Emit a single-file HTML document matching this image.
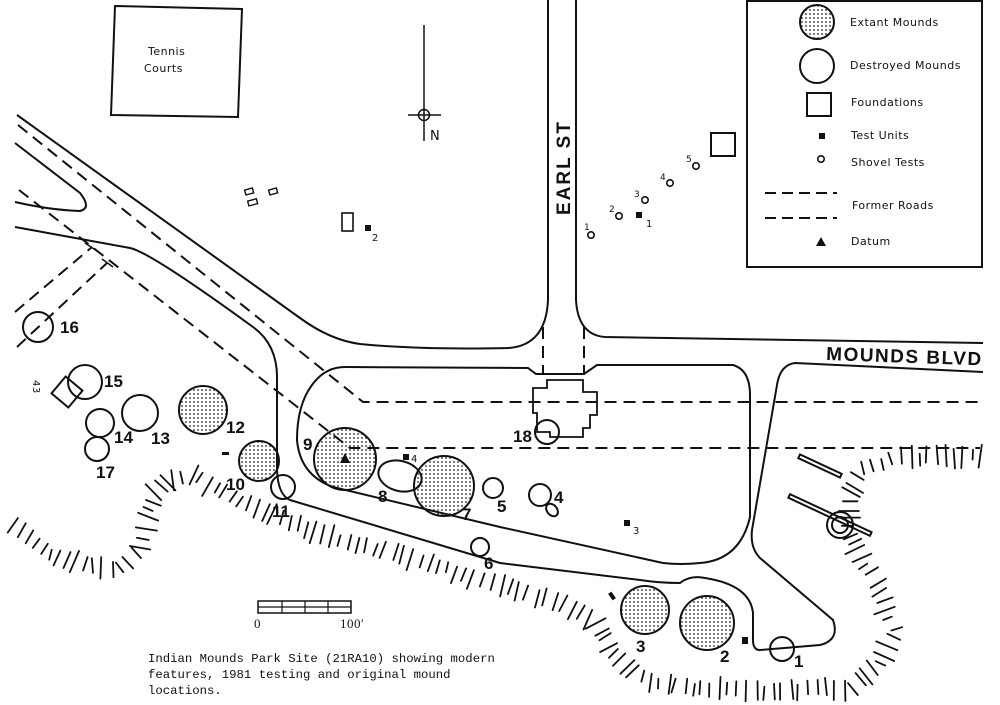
<!DOCTYPE html>
<html><head><meta charset="utf-8"><style>
html,body{margin:0;padding:0;background:#fff;}
svg{display:block;}
.b{font-family:"Liberation Sans",sans-serif;font-weight:bold;font-size:17px;fill:#111;}
.s{font-family:"DejaVu Sans","Liberation Sans",sans-serif;font-size:11px;fill:#111;letter-spacing:0.5px;}
.c{font-family:"Liberation Mono",monospace;font-size:12.3px;fill:#111;}
</style></head><body>
<svg id="m" width="1000" height="705" viewBox="0 0 1000 705" xmlns="http://www.w3.org/2000/svg">
<defs>
<pattern id="dots" width="4" height="4" patternUnits="userSpaceOnUse"><circle cx="2" cy="2" r="0.9" fill="#222"/></pattern>
</defs>
<rect width="1000" height="705" fill="#fff"/>
<g fill="none" stroke="#111" stroke-width="2">
<path d="M115 6 L242 9 L238 117 L111 115 Z"/>
<path d="M424 25 V141 M408 115 H441" stroke-width="1.5"/>
<circle cx="424" cy="115" r="5.5" stroke-width="1.5"/>
<path d="M17 115 L300 318 Q330 340 360 344 Q420 350 509 348 Q546 345 548 300 V0"/>
<path d="M15 143 L80 193 Q92 208 80 211 Q50 210 15 202"/>
<path d="M15 227 L130 248 Q150 252 253 327 Q278 345 277 380 V470 Q278 495 290 500 L500 563 L640 580 Q660 583 680 583 Q690 575 705 578 Q750 585 753 613 V640 Q753 650 760 650 L820 645 Q840 640 833 620 L760 558 Q750 548 752 530 L777 385 Q780 365 795 363 L983 372"/>
<path d="M576 0 V300 Q578 335 605 337 L983 343"/>
<path d="M500 527 L333 487 Q300 475 297 440 Q297 405 312 385 Q325 367 345 367 L528 368 L536 374 H584 L597 365 L733 365 Q750 370 750 395 V517 Q740 560 700 563 Q680 565 663 563 Z"/>
<path d="M547 380 V388 H533 V413 H537 V432 H550 V437 H583 V428 H590 V415 H597 V392 H583 V380 Z" stroke-width="1.8"/>
<rect x="747" y="1" width="235" height="266"/>
<rect x="807" y="93" width="24" height="23"/>
<circle cx="817" cy="66" r="17"/>
<rect x="711" y="133" width="24" height="23"/>
<rect x="342" y="213" width="11" height="18" stroke-width="1.6"/>
<g stroke-width="1.4"><rect x="245" y="189" width="8" height="5" transform="rotate(-15 249 191)"/><rect x="248" y="200" width="9" height="5" transform="rotate(-15 252 202)"/><rect x="269" y="189" width="8" height="5" transform="rotate(-15 273 191)"/></g>
<rect x="258" y="601" width="93" height="12" stroke-width="1.5"/>
<path d="M258 607 H351 M282 601 V613 M305 601 V613 M328 601 V613" stroke-width="1.2"/>
</g>
<g fill="none" stroke="#111" stroke-width="2" stroke-dasharray="12 7">
<path d="M18 125 L363 402 H980"/>
<path d="M19 190 L350 448 H980"/>
<path d="M15 312 L92 247"/>
<path d="M17 347 L107 263"/>
<path d="M543 327 V375 M584 327 V375"/>
<path d="M765 193 H837 M765 218 H837" stroke-dasharray="11 6"/>
</g>
<path d="M85 243 L97 251 M102 259 L113 267" stroke="#111" stroke-width="1.5"/>
<g stroke="#111" stroke-width="2">
<circle cx="817" cy="22" r="17" fill="url(#dots)"/>
<circle cx="203" cy="410" r="24" fill="url(#dots)"/>
<circle cx="259" cy="461" r="20" fill="url(#dots)"/>
<circle cx="345" cy="459" r="31" fill="url(#dots)"/>
<circle cx="444" cy="486" r="30" fill="url(#dots)"/>
<circle cx="645" cy="610" r="24" fill="url(#dots)"/>
<circle cx="707" cy="623" r="27" fill="url(#dots)"/>
<g fill="none">
<circle cx="38" cy="327" r="15"/>
<circle cx="85" cy="382" r="17"/>
<rect x="56" y="381" width="22" height="22" transform="rotate(40 67 392)"/>
<circle cx="100" cy="423" r="14"/>
<circle cx="140" cy="413" r="18"/>
<circle cx="97" cy="449" r="12"/>
<circle cx="283" cy="487" r="12"/>
<ellipse cx="400" cy="476" rx="22" ry="15" transform="rotate(15 400 476)"/>
<circle cx="493" cy="488" r="10"/>
<circle cx="480" cy="547" r="9"/>
<circle cx="540" cy="495" r="11"/>
<ellipse cx="552" cy="510" rx="5" ry="7" transform="rotate(-40 552 510)"/>
<circle cx="547" cy="432" r="12"/>
<circle cx="782" cy="649" r="12"/>
<circle cx="840" cy="525" r="13"/>
<circle cx="840" cy="525" r="8"/>
<rect x="797" y="464" width="46" height="4" transform="rotate(25 820 466)"/>
<rect x="785" y="513" width="90" height="4" transform="rotate(25 830 515)"/>
</g>
</g>
<g fill="#111">
<rect x="365" y="225" width="6" height="6"/>
<rect x="636" y="212" width="6" height="6"/>
<rect x="624" y="520" width="6" height="6"/>
<rect x="403" y="454" width="6" height="6"/>
<rect x="742" y="637" width="6" height="7"/>
<rect x="819" y="133" width="6" height="6"/>
<path d="M345 453 L340 463 H350 Z"/>
<path d="M821 237 L816 246 H826 Z"/>
<rect x="222" y="452" width="7" height="3"/>
<rect x="610" y="592" width="4" height="8" transform="rotate(-35 612 596)"/>
</g>
<g fill="none" stroke="#111" stroke-width="1.6">
<circle cx="591" cy="235" r="3.2"/><circle cx="619" cy="216" r="3.2"/><circle cx="645" cy="200" r="3.2"/><circle cx="670" cy="183" r="3.2"/><circle cx="696" cy="166" r="3.2"/><circle cx="821" cy="159" r="3.2"/>
</g>
<g id="hach" stroke="#111" stroke-width="1.8" stroke-linecap="round" fill="none"></g>
<g class="b">
<text x="60" y="333">16</text><text x="104" y="387">15</text><text x="114" y="443">14</text><text x="151" y="444">13</text><text x="226" y="433">12</text>
<text x="96" y="478">17</text><text x="226" y="490">10</text><text x="272" y="517">11</text><text x="303" y="450">9</text><text x="378" y="502">8</text>
<text x="462" y="520">7</text><text x="497" y="512">5</text><text x="484" y="569">6</text><text x="554" y="503">4</text><text x="513" y="442">18</text>
<text x="636" y="652">3</text><text x="720" y="662">2</text><text x="794" y="667">1</text>
<text x="826" y="360" transform="rotate(2 826 360)" font-size="19" letter-spacing="1.5">MOUNDS  BLVD</text>
<text x="0" y="0" transform="translate(570 215) rotate(-90)" font-size="19" letter-spacing="2">EARL  ST</text>
</g>
<g class="s">
<text x="148" y="55">Tennis</text><text x="144" y="72">Courts</text>
<text x="430" y="140" font-size="13">N</text>
<text x="850" y="26">Extant Mounds</text>
<text x="850" y="69">Destroyed Mounds</text>
<text x="851" y="106">Foundations</text>
<text x="851" y="139">Test Units</text>
<text x="851" y="166">Shovel Tests</text>
<text x="852" y="209">Former Roads</text>
<text x="851" y="245">Datum</text>
<text x="372" y="241" font-size="10">2</text>
<text x="646" y="227" font-size="10">1</text>
<text x="633" y="534" font-size="10">3</text>
<text x="411" y="462" font-size="10">4</text>
<text x="584" y="230" font-size="9">1</text><text x="609" y="212" font-size="9">2</text><text x="634" y="197" font-size="9">3</text><text x="660" y="180" font-size="9">4</text><text x="686" y="162" font-size="9">5</text>
<text x="0" y="0" transform="translate(33 380) rotate(90)" font-size="10">43</text>
<text x="254" y="628" font-family="Liberation Serif" font-size="13">0</text>
<text x="340" y="628" font-family="Liberation Serif" font-size="13">100′</text>
</g>
<g class="c">
<text x="148" y="662">Indian Mounds Park Site (21RA10) showing modern</text>
<text x="148" y="678">features, 1981 testing and original mound</text>
<text x="148" y="694">locations.</text>
</g>
</svg>
<script>
(function(){
var pts=[[10,526],[50,552],[90,568],[120,568],[140,550],[145,520],[155,495],[172,478],[190,475],[215,488],[245,505],[280,520],[320,532],[400,556],[480,580],[560,604],[595,622],[612,652],[640,678],[700,690],[780,692],[850,688],[880,665],[895,630],[882,592],[862,560],[848,530],[848,495],[862,470],[900,458],[960,456],[985,458]];
var g=document.getElementById('hach'),ns='http://www.w3.org/2000/svg',seed=7;
function r(){seed=(seed*9301+49297)%233280;return seed/233280;}
var d='';
for(var i=0;i<pts.length-1;i++){
 var a=pts[i],b=pts[i+1],dx=b[0]-a[0],dy=b[1]-a[1],L=Math.hypot(dx,dy),n=Math.max(1,Math.round(L/9));
 var nx=-dy/L,ny=dx/L;
 for(var k=0;k<n;k++){
  var t=(k+r()*0.5)/n,x=a[0]+dx*t,y=a[1]+dy*t,len=10+r()*13,off=(r()-0.5)*6;
  var x1=x+nx*(-len/2+off),y1=y+ny*(-len/2+off),x2=x+nx*(len/2+off)+(r()-0.5)*3,y2=y+ny*(len/2+off);
  d+='M'+x1.toFixed(1)+' '+y1.toFixed(1)+'L'+x2.toFixed(1)+' '+y2.toFixed(1);
 }
}
var p=document.createElementNS(ns,'path');p.setAttribute('d',d);g.appendChild(p);
})();
</script>
</body></html>
